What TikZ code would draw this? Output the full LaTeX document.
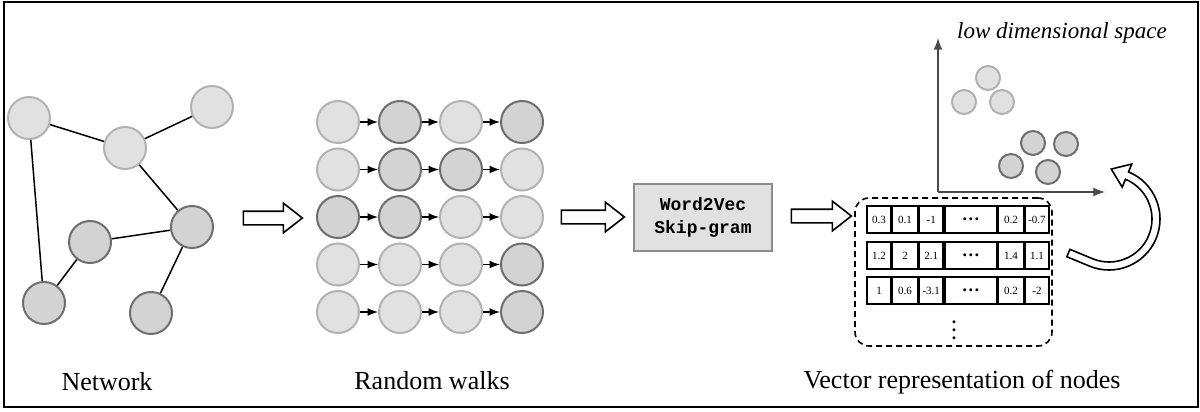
\documentclass[tikz,border=0pt]{standalone}
\usepackage{fontspec}
\setmainfont{Liberation Serif}
\setmonofont{Liberation Mono}
\usetikzlibrary{arrows,shapes,positioning,calc}

\definecolor{lfill}{HTML}{E1E1E1}
\definecolor{lline}{HTML}{B2B2B2}
\definecolor{dfill}{HTML}{D3D3D3}
\definecolor{dline}{HTML}{6E6E6E}
\definecolor{boxline}{HTML}{8C8C8C}
\definecolor{axisgray}{HTML}{4A4A4A}

% one row of the embedding table: name, y, five values
\newcommand{\vecrow}[7]{
  \node[cell, minimum width=12pt] (#1a) at (879,#2) {#3};
  \node[cell, minimum width=12.5pt, right=0pt of #1a] (#1b) {#4};
  \node[cell, minimum width=12pt, right=0pt of #1b] (#1c) {#5};
  \node[cell, minimum width=26pt, right=0pt of #1c, font=\fontsize{9}{10}\selectfont\bfseries] (#1d) {\ldots};
  \node[cell, minimum width=12.5pt, right=0pt of #1d] (#1e) {#6};
  \node[cell, minimum width=12pt, right=0pt of #1e] (#1f) {#7};
}

\begin{document}
\begin{tikzpicture}[x=0.5pt, y=-0.5pt, >=latex,
  lnode/.style={circle, draw=lline, fill=lfill, line width=1pt, minimum size=21pt, inner sep=0pt},
  dnode/.style={circle, draw=dline, fill=dfill, line width=1pt, minimum size=21pt, inner sep=0pt},
  lpoint/.style={lnode, minimum size=12pt},
  dpoint/.style={dnode, minimum size=12pt},
  edge/.style={line width=0.75pt},
  walk/.style={->, line width=0.8pt},
  hollow/.style={single arrow, draw, fill=white, line width=0.8pt, inner xsep=0pt, inner ysep=3pt,
    minimum width=14pt, single arrow head extend=4pt, single arrow tip angle=76},
  cell/.style={draw, line width=0.8pt, minimum height=13.5pt, inner sep=0pt,
    font=\fontsize{5.5}{6}\selectfont},
  label/.style={font=\fontsize{13}{15}\selectfont}]
  \useasboundingbox (0,0) rectangle (1200,412);
  \draw[line width=1pt] (4,2) rectangle (1198,407);

  % network
  \node[lnode] (n1) at (29,118) {};
  \node[lnode] (n2) at (125,148) {};
  \node[lnode] (n3) at (212,107) {};
  \node[dnode] (n4) at (192,227) {};
  \node[dnode] (n5) at (90,242) {};
  \node[dnode] (n6) at (44,303) {};
  \node[dnode] (n7) at (151,313) {};
  \draw[edge] (n1) -- (n2);
  \draw[edge] (n2) -- (n3);
  \draw[edge] (n2) -- (n4);
  \draw[edge] (n4) -- (n5);
  \draw[edge] (n5) -- (n6);
  \draw[edge] (n1) -- (n6);
  \draw[edge] (n4) -- (n7);
  \node[label] (net) at (107,382) {Network};

  \node[hollow, minimum height=29.5pt] (go1) at (268.5,218) {};

  % random walks
  \foreach \r/\a/\b/\c/\d in {1/lnode/dnode/lnode/dnode, 2/lnode/dnode/dnode/lnode,
      3/dnode/dnode/lnode/lnode, 4/lnode/lnode/lnode/dnode, 5/lnode/lnode/lnode/dnode} {
    \node[\a] (w\r1) at (338,{122+47.5*(\r-1)}) {};
    \node[\b] (w\r2) at (400,{122+47.5*(\r-1)}) {};
    \node[\c] (w\r3) at (461,{122+47.5*(\r-1)}) {};
    \node[\d] (w\r4) at (522,{122+47.5*(\r-1)}) {};
    \draw[walk] (w\r1) -- (w\r2);
    \draw[walk] (w\r2) -- (w\r3);
    \draw[walk] (w\r3) -- (w\r4);
  }
  \node[label] (rw) at (432,381) {Random walks};

  \node[hollow, minimum height=31.5pt] (go2) at (588.5,217) {};

  \node[draw=boxline, fill=lfill, line width=1pt, minimum width=69pt, minimum height=33.5pt,
    align=center, font=\ttfamily\bfseries\fontsize{9}{11.5}\selectfont] (w2v) at (703,217.5)
    {Word2Vec\\Skip-gram};

  \node[hollow, minimum height=30pt] (go3) at (817,216) {};

  % vectors
  \node[draw, dashed, dash pattern=on 3pt off 2pt, rounded corners=7pt, line width=0.8pt,
    minimum width=98.5pt, minimum height=74pt] (vbox) at (953.5,272) {};
  \vecrow{ra}{219.5}{0.3}{0.1}{-1}{0.2}{-0.7}
  \vecrow{rb}{255.5}{1.2}{2}{2.1}{1.4}{1.1}
  \vecrow{rc}{290.5}{1}{0.6}{-3.1}{0.2}{-2}
  \node[font=\fontsize{9}{10}\selectfont\bfseries, inner sep=0pt] (vd) at (954,324) {\vdots};
  \node[label] (vr) at (962,382) {Vector representation of nodes};

  % low dimensional space
  \coordinate (o) at (938,192);
  \coordinate (ytop) at (938,38);
  \coordinate (xend) at (1105,192);
  \draw[->, axisgray, line width=1pt] (o) -- (ytop);
  \draw[->, axisgray, line width=1pt] (o) -- (xend);
  \node[label, font=\fontsize{11.5}{13}\selectfont\itshape] (lds) at (1062,33) {low dimensional space};
  \node[lpoint] (p1) at (988,78) {};
  \node[lpoint] (p2) at (964,102) {};
  \node[lpoint] (p3) at (1002,102) {};
  \node[dpoint] (p4) at (1033,143) {};
  \node[dpoint] (p5) at (1066,144) {};
  \node[dpoint] (p6) at (1011,166) {};
  \node[dpoint] (p7) at (1048,172) {};

  \coordinate (c) at (1109,219);
  \draw[line width=0.8pt, fill=white] ($(c)+(-67.5:51)$)
    arc[start angle=-67.5, end angle=112.5, radius=51]
    -- ++(-157.5:24.5) -- ++(-67.5:8) -- ++(22.5:24.5)
    arc[start angle=112.5, end angle=-67.5, radius=43]
    -- ($(c)+(-67.5:34.5)$) -- ($(c)+(-67.5:47)+(-157.5:17)$)
    -- ($(c)+(-67.5:59.5)$) -- cycle;
\end{tikzpicture}
\end{document}
